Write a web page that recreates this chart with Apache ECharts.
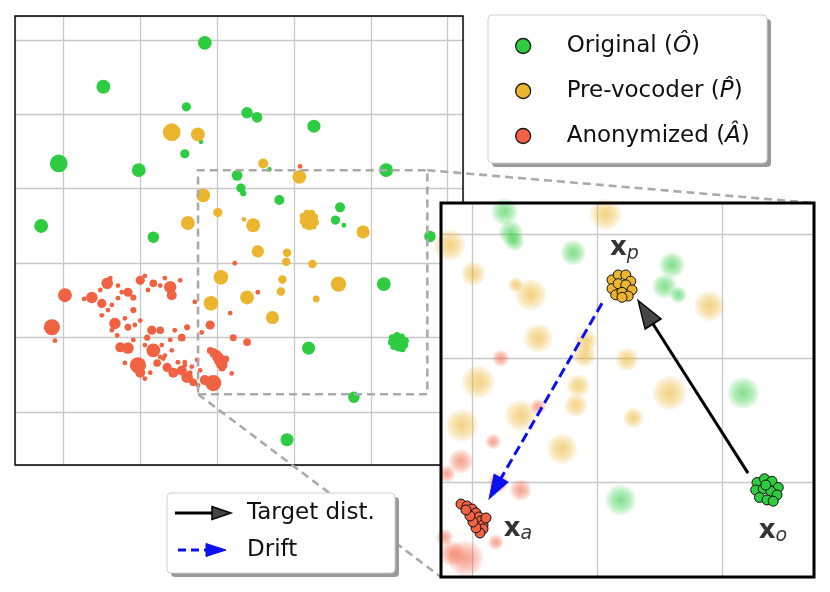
<!DOCTYPE html>
<html>
<head>
<meta charset="utf-8">
<script src="https://cdn.jsdelivr.net/npm/echarts@6/dist/echarts.min.js"></script>
<style>
  html, body { margin: 0; padding: 0; background: #fff; }
  #chart { width: 830px; height: 592px; }
</style>
</head>
<body>
<div id="chart"></div>
<script>
// clusters: [x, y, cluster extent]
const greenClusters = [
  [-1.6, 29.6, 1.8], [-14.8, 23.7, 1.8], [-4.0, 21.0, 1.2], [-4.2, 14.7, 1.2],
  [-20.6, 13.4, 2.3], [-10.2, 12.5, 1.8], [-22.9, 5.0, 1.8], [-8.3, 3.5, 1.5],
  [-2.1, 16.3, 0.5], [3.9, 20.2, 1.5], [5.2, 19.6, 1.4], [12.6, 18.4, 1.7],
  [22.0, 12.5, 1.8], [2.6, 11.8, 1.4], [3.1, 10.1, 1.2], [3.4, 9.4, 0.8],
  [8.1, 8.5, 1.3], [16.0, 7.5, 1.3], [15.4, 5.8, 1.2], [16.5, 5.1, 0.6],
  [27.7, 3.6, 1.5], [21.7, -2.8, 1.8], [11.9, -11.4, 1.7], [17.8, -18.0, 1.5],
  [9.1, -23.7, 1.7], [6.8, 12.6, 0.5]
];
const yellowClusters = [
  [-5.9, 17.6, 2.3], [-2.5, 17.3, 1.8], [-1.8, 9.1, 1.8], [0.1, 6.8, 1.2],
  [-3.8, 5.4, 1.8], [6.0, 13.4, 1.3], [10.7, 11.6, 1.8], [4.7, 5.1, 1.8],
  [3.5, 5.9, 0.5], [19.0, 4.2, 1.7], [5.3, 1.6, 1.6], [9.1, 1.4, 1.1],
  [9.0, 0.2, 1.1], [12.4, -0.1, 1.1], [0.5, -1.9, 1.9], [15.8, -2.8, 2.0],
  [8.5, -2.2, 1.1], [8.3, -3.8, 1.1], [3.9, -4.6, 1.8], [12.9, -4.8, 0.9],
  [-0.8, -5.4, 1.9], [7.2, -7.3, 1.7]
];
const redClusters = [
  [-19.8, -4.3, 1.8], [-21.5, -8.6, 2.1], [-21.1, -10.4, 0.5], [-14.3, -2.7, 1.5],
  [-16.3, -4.6, 1.5], [-15.0, -5.4, 1.2], [-17.3, -4.8, 0.5], [-15.0, -7.0, 0.5],
  [-12.9, -4.7, 0.5], [-10.0, -2.3, 1.2], [-8.3, -2.7, 1.0], [-11.6, -3.9, 1.2],
  [-10.9, -4.6, 0.8], [-10.9, -6.3, 0.8], [-6.1, -3.2, 1.6], [-5.9, -4.3, 1.3],
  [-4.8, -2.3, 0.5], [-13.3, -8.1, 1.5], [-11.6, -8.6, 0.9], [-10.7, -8.3, 0.6],
  [-12.6, -11.3, 1.3], [-11.6, -11.4, 1.5], [-10.3, -13.7, 2.1], [-10.0, -14.7, 1.3],
  [-8.5, -9.0, 1.2], [-7.4, -9.0, 1.0], [-9.1, -10.0, 0.8], [-8.3, -11.7, 1.8],
  [-5.9, -11.7, 0.5], [-7.8, -13.4, 1.0], [-6.5, -14.0, 1.2], [-5.7, -14.7, 1.3],
  [-4.6, -14.4, 1.3], [-3.9, -15.3, 1.5], [-3.1, -16.0, 1.0], [-12.0, -13.4, 0.5],
  [-4.6, -10.0, 1.0], [-3.9, -8.6, 0.8], [-2.9, -5.2, 0.5], [2.3, 0.0, 0.6],
  [1.7, -6.7, 0.5], [-0.9, -8.3, 1.2], [-2.0, -9.3, 0.6], [2.1, -10.0, 0.9],
  [3.9, -10.6, 1.0], [-0.5, -16.1, 2.1], [-1.6, -15.7, 1.3], [-2.6, -13.0, 0.5],
  [-2.2, -14.4, 0.6], [5.3, -3.9, 0.5], [10.8, 13.0, 0.5], [1.9, -14.8, 0.5],
  [-7.0, -12.8, 0.5], [-4.2, -13.3, 0.6], [-3.3, -13.9, 0.5],
  [-15.2, -3.6, 0.6], [-13.9, -2.0, 0.6], [-12.9, -3.0, 0.6], [-12.4, -3.9, 0.6],
  [-9.4, -1.7, 0.6], [-9.0, -3.6, 0.6], [-7.4, -3.0, 0.6], [-6.8, -2.0, 0.6],
  [-13.7, -5.6, 0.6], [-14.2, -6.3, 0.6], [-12.0, -7.4, 0.6], [-10.0, -7.7, 0.6],
  [-9.4, -11.0, 0.6], [-10.9, -10.3, 0.6], [-7.2, -11.0, 0.6], [-6.8, -12.4, 0.6],
  [-5.1, -13.3, 0.6], [-4.2, -13.7, 0.6], [-3.5, -14.7, 0.6], [-2.5, -16.4, 0.6],
  [-8.7, -14.7, 0.6], [-9.4, -15.5, 0.6], [-7.4, -12.6, 0.6], [-5.5, -9.0, 0.6],
  [-6.1, -10.3, 0.6], [-13.0, -9.7, 0.6], [-13.7, -9.0, 0.6]
];

// the three samples highlighted in the zoom
const xoPoints = [
  [22.8, -10.0], [23.4, -9.7], [24.0, -9.9], [24.5, -10.4], [22.7, -10.6], [23.3, -10.5],
  [23.9, -10.7], [24.4, -11.0], [23.0, -11.2], [23.6, -11.4], [24.1, -11.5], [23.5, -10.2]
];
const xpPoints = [
  [11.2, 6.3], [11.7, 6.7], [12.3, 6.7], [12.7, 6.2], [11.2, 5.6], [11.7, 6.0],
  [12.3, 5.9], [12.8, 5.5], [11.5, 5.1], [12.0, 5.3], [12.5, 5.0], [12.0, 4.9]
];
const xaPoints = [
  [-0.88, -11.73], [-0.4, -11.89], [0.0, -12.13], [0.32, -12.45], [0.56, -12.77],
  [0.72, -13.09], [0.88, -13.41], [0.88, -13.73], [0.64, -14.06], [0.32, -13.65],
  [0.08, -13.17], [-0.16, -12.69], [-0.48, -12.21], [1.12, -12.85]
];

// zoom window and annotations (data units)
const zoomX = [-2.48, 27.36];
const zoomY = [-17.6, 12.49];
const targetArrow = [[22.08, -9.24], [13.28, 4.66]];
const driftArrow = [[10.4, 4.42], [1.36, -11.33]];
const pointLabels = [[12.2, 8.84, 'p'], [3.68, -13.73, 'a'], [24.08, -13.9, 'o']];

const legendNames = ['Original', 'Pre-vocoder', 'Anonymized'];
const legendHats = ['Ô', 'P\u0302', 'Â'];

const GREEN = '#2ecc40', YELLOW = '#ebb52e', RED = '#f06242';
const FONT = 'DejaVu Sans';

const MAIN = { left: 15, top: 16, width: 448, height: 449 };
const INSET = { left: 441, top: 203, width: 373, height: 374 };
const LEG1 = { x: 488, y: 15, w: 279, h: 148 };
const LEG2 = { x: 167, y: 493, w: 228, h: 80 };
const mainX = [-26.3, 32.0], mainY = [-27.1, 33.2];

const pxMain = MAIN.width / (mainX[1] - mainX[0]);
const pxInX = INSET.width / (zoomX[1] - zoomX[0]);
const pxInY = INSET.height / (zoomY[1] - zoomY[0]);

function rgba(hex, a) {
  const n = parseInt(hex.slice(1), 16);
  return 'rgba(' + (n >> 16) + ',' + ((n >> 8) & 255) + ',' + (n & 255) + ',' + a + ')';
}

function axisPair(idx, range) {
  return {
    type: 'value', gridIndex: idx, min: range[0], max: range[1],
    minInterval: 10, maxInterval: 10,
    z: idx === 0 ? 0 : 11,
    axisLine: { show: false }, axisTick: { show: false }, axisLabel: { show: false },
    splitLine: { show: true, lineStyle: { color: '#c8c8c8', width: 1.3 } }
  };
}

function mainSeries(name, data, color) {
  return {
    name: name, type: 'scatter', xAxisIndex: 0, yAxisIndex: 0, z: 2,
    data: data,
    symbolSize: v => (v.length > 2 ? Math.max(v[2] * pxMain, 4.8) : 7),
    itemStyle: { color: color, opacity: 1 },
    silent: true
  };
}

// faded cloud in the zoom: soft radial blob per cluster
function insetSeries(data, color) {
  return {
    name: 'zoom', type: 'scatter', xAxisIndex: 1, yAxisIndex: 1, z: 12,
    data: data,
    symbolSize: v => v[2] * pxInX + 9,
    itemStyle: {
      opacity: 1,
      color: {
        type: 'radial', x: 0.5, y: 0.5, r: 0.5,
        colorStops: [
          { offset: 0, color: rgba(color, 0.6) },
          { offset: 0.55, color: rgba(color, 0.38) },
          { offset: 1, color: rgba(color, 0.08) }
        ]
      }
    },
    silent: true
  };
}

function highlight(data, color) {
  return {
    name: 'sample', type: 'scatter', xAxisIndex: 1, yAxisIndex: 1, z: 14,
    data: data, symbolSize: 10,
    itemStyle: { color: color, opacity: 1, borderColor: '#111', borderWidth: 1 },
    silent: true
  };
}

// arrow head as a rotated triangle, line stops at its base
function arrowParts(arrow, len) {
  const s = arrow[0], t = arrow[1];
  const dxp = (t[0] - s[0]) * pxInX, dyp = (t[1] - s[1]) * pxInY;
  const L = Math.hypot(dxp, dyp), ux = dxp / L, uy = dyp / L;
  return {
    base: [t[0] - ux * len / pxInX, t[1] - uy * len / pxInY],
    center: [t[0] - ux * len / 2 / pxInX, t[1] - uy * len / 2 / pxInY],
    rot: Math.atan2(-dxp, dyp) * 180 / Math.PI
  };
}
const tHead = arrowParts(targetArrow, 28);
const dHead = arrowParts(driftArrow, 24);

const rectCoords = [
  [zoomX[0], zoomY[0]], [zoomX[1], zoomY[0]], [zoomX[1], zoomY[1]],
  [zoomX[0], zoomY[1]], [zoomX[0], zoomY[0]]
];

const option = {
  backgroundColor: '#fff',
  animation: false,
  grid: [
    Object.assign({ show: true, z: 1, backgroundColor: 'transparent', borderColor: '#000', borderWidth: 1.4 }, MAIN),
    Object.assign({ show: true, z: 10, backgroundColor: '#fff', borderWidth: 0 }, INSET)
  ],
  xAxis: [axisPair(0, mainX), axisPair(1, zoomX)],
  yAxis: [axisPair(0, mainY), axisPair(1, zoomY)],
  legend: {
    orient: 'vertical', left: LEG1.x, top: LEG1.y, z: 5,
    data: legendNames,
    icon: 'circle', itemWidth: 15, itemHeight: 15, itemGap: 15,
    padding: [16, 14, 12, 27],
    backgroundColor: 'transparent', borderWidth: 0,
    itemStyle: { borderColor: '#1a1a1a', borderWidth: 1.3 },
    selectedMode: false,
    formatter: name => '{g|}{n|' + name + ' (}{i|' + legendHats[legendNames.indexOf(name)] + '}{n|)}',
    textStyle: {
      lineHeight: 30,
      rich: {
        g: { width: 31 },
        n: { fontFamily: FONT, fontSize: 23, color: '#111', lineHeight: 30 },
        i: { fontFamily: FONT, fontSize: 23, fontStyle: 'italic', color: '#111', lineHeight: 30 }
      }
    }
  },
  series: [
    mainSeries('Original', greenClusters.concat(xoPoints), GREEN),
    mainSeries('Pre-vocoder', yellowClusters.concat(xpPoints), YELLOW),
    mainSeries('Anonymized', redClusters.concat(xaPoints), RED),
    {
      type: 'lines', coordinateSystem: 'cartesian2d', xAxisIndex: 0, yAxisIndex: 0,
      polyline: true, z: 5, silent: true,
      data: [{ coords: rectCoords }],
      lineStyle: { color: '#aaaaaa', width: 2.6, type: [8, 5], opacity: 1 }
    },
    insetSeries(greenClusters, GREEN),
    insetSeries(yellowClusters, YELLOW),
    insetSeries(redClusters, RED),
    highlight(xoPoints, GREEN),
    highlight(xpPoints, YELLOW),
    highlight(xaPoints, RED),
    {
      type: 'lines', coordinateSystem: 'cartesian2d', xAxisIndex: 1, yAxisIndex: 1,
      z: 16, silent: true,
      data: [
        { coords: [targetArrow[0], tHead.base], lineStyle: { color: '#000', width: 3, type: 'solid' } },
        { coords: [driftArrow[0], dHead.base], lineStyle: { color: '#0a10f0', width: 3, type: [10, 5] } }
      ],
      lineStyle: { opacity: 1 }
    },
    {
      type: 'scatter', xAxisIndex: 1, yAxisIndex: 1, z: 17, silent: true,
      symbol: 'triangle',
      data: [
        { value: tHead.center, symbolRotate: tHead.rot, symbolSize: [19, 28],
          itemStyle: { color: '#454545', opacity: 1, borderColor: '#000', borderWidth: 1.5 } },
        { value: dHead.center, symbolRotate: dHead.rot, symbolSize: [16, 24],
          itemStyle: { color: '#0a10f0', opacity: 1, borderColor: '#0a10f0', borderWidth: 1 } }
      ]
    },
    {
      type: 'scatter', xAxisIndex: 1, yAxisIndex: 1, z: 18, silent: true,
      symbolSize: 1, itemStyle: { color: 'transparent' },
      data: pointLabels.map(p => ({ value: [p[0], p[1]], name: p[2] })),
      label: {
        show: true, position: 'inside',
        formatter: p => '{b|x}{s|' + p.name + '}',
        rich: {
          b: { fontFamily: FONT, fontWeight: 'bold', fontSize: 26, color: '#000', lineHeight: 30 },
          s: { fontFamily: FONT, fontStyle: 'italic', fontSize: 19, color: '#000', lineHeight: 19, verticalAlign: 'bottom' }
        }
      }
    }
  ]
};

const chart = echarts.init(document.getElementById('chart'), null, { renderer: 'canvas' });
chart.setOption(option);

// zoom connectors, frames and the boxes behind both legends
const topA = chart.convertToPixel({ gridIndex: 0 }, [zoomX[1], zoomY[1]]);
const topB = chart.convertToPixel({ gridIndex: 1 }, [zoomX[1], zoomY[1]]);
const botA = chart.convertToPixel({ gridIndex: 0 }, [zoomX[0], zoomY[0]]);
const botB = chart.convertToPixel({ gridIndex: 1 }, [zoomX[0], zoomY[0]]);
const dashStyle = { stroke: '#aaaaaa', lineWidth: 2.6, lineDash: [8, 5], fill: null };

function boxWithShadow(b, z) {
  return [
    { type: 'rect', z: z, silent: true, shape: { x: b.x + 4, y: b.y + 4, width: b.w, height: b.h, r: 4 },
      style: { fill: '#9a9a9a', stroke: null } },
    { type: 'rect', z: z + 1, silent: true, shape: { x: b.x, y: b.y, width: b.w, height: b.h, r: 4 },
      style: { fill: '#fff', stroke: '#d0d0d0', lineWidth: 1 } }
  ];
}

chart.setOption({
  graphic: [
    { type: 'line', z: 6, silent: true, shape: { x1: topA[0], y1: topA[1], x2: topB[0], y2: topB[1] }, style: dashStyle },
    { type: 'line', z: 6, silent: true, shape: { x1: botA[0], y1: botA[1], x2: botB[0], y2: botB[1] }, style: dashStyle },
    { type: 'rect', z: 15, silent: true,
      shape: { x: INSET.left, y: INSET.top, width: INSET.width, height: INSET.height },
      style: { fill: null, stroke: '#000', lineWidth: 3 } }
  ].concat(boxWithShadow(LEG1, 2)).concat(boxWithShadow(LEG2, 30)).concat([
    { type: 'line', z: 32, silent: true, shape: { x1: LEG2.x + 8, y1: LEG2.y + 20, x2: LEG2.x + 46, y2: LEG2.y + 20 },
      style: { stroke: '#000', lineWidth: 3 } },
    { type: 'polygon', z: 33, silent: true,
      shape: { points: [[LEG2.x + 45, LEG2.y + 13.5], [LEG2.x + 45, LEG2.y + 26.5], [LEG2.x + 64, LEG2.y + 20]] },
      style: { fill: '#454545', stroke: '#000', lineWidth: 1.5 } },
    { type: 'text', z: 33, silent: true, x: LEG2.x + 80, y: LEG2.y + 20,
      style: { text: 'Target dist.', font: '23px "DejaVu Sans"', fill: '#111', verticalAlign: 'middle' } },
    { type: 'line', z: 32, silent: true, shape: { x1: LEG2.x + 11, y1: LEG2.y + 57, x2: LEG2.x + 40, y2: LEG2.y + 57 },
      style: { stroke: '#0a10f0', lineWidth: 3, lineDash: [8, 5] } },
    { type: 'polygon', z: 33, silent: true,
      shape: { points: [[LEG2.x + 39, LEG2.y + 50.5], [LEG2.x + 39, LEG2.y + 63.5], [LEG2.x + 59, LEG2.y + 57]] },
      style: { fill: '#0a10f0', stroke: '#0a10f0', lineWidth: 1 } },
    { type: 'text', z: 33, silent: true, x: LEG2.x + 80, y: LEG2.y + 57,
      style: { text: 'Drift', font: '23px "DejaVu Sans"', fill: '#111', verticalAlign: 'middle' } }
  ])
});
</script>
</body>
</html>
